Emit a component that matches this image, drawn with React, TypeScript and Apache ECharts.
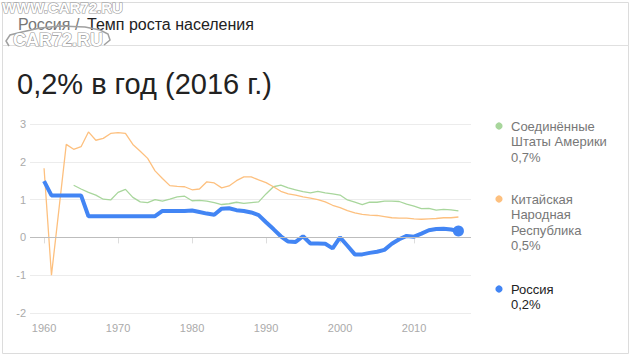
import React, { useEffect, useRef } from "react";
import * as echarts from "echarts";

const years: number[] = [];
for (let y = 1960; y <= 2016; y++) years.push(y);

const russiaValues = [
  1.49, 1.11, 1.11, 1.11, 1.11, 1.11, 0.56, 0.56, 0.56, 0.56,
  0.56, 0.56, 0.56, 0.56, 0.56, 0.56, 0.70, 0.70, 0.70, 0.70,
  0.71, 0.67, 0.63, 0.60, 0.76, 0.77, 0.72, 0.70, 0.66, 0.59,
  0.40, 0.22, 0.03, -0.11, -0.12, 0.03, -0.16, -0.16, -0.17, -0.29,
  0.0, -0.22, -0.45, -0.45, -0.41, -0.38, -0.33, -0.17, -0.05, 0.04,
  0.02, 0.10, 0.19, 0.22, 0.23, 0.21, 0.17,
];

const chinaValues = [
  1.83, -1.0, 0.72, 2.46, 2.33, 2.40, 2.79, 2.57, 2.62, 2.75,
  2.77, 2.75, 2.46, 2.28, 2.09, 1.76, 1.56, 1.37, 1.35, 1.34,
  1.26, 1.28, 1.47, 1.44, 1.31, 1.36, 1.50, 1.60, 1.60, 1.52,
  1.45, 1.34, 1.22, 1.15, 1.12, 1.07, 1.04, 1.00, 0.94, 0.85,
  0.79, 0.71, 0.65, 0.61, 0.59, 0.58, 0.55, 0.52, 0.51, 0.51,
  0.49, 0.48, 0.49, 0.50, 0.52, 0.52, 0.54,
];

const usaYears: number[] = [];
for (let y = 1964; y <= 2016; y++) usaYears.push(y);
const usaValues = [
  1.38, 1.28, 1.19, 1.12, 1.01, 0.99,
  1.19, 1.27, 1.06, 0.94, 0.92, 1.00, 0.96, 1.01, 1.07, 1.09,
  0.97, 0.98, 0.96, 0.92, 0.87, 0.89, 0.93, 0.90, 0.92, 0.94,
  1.15, 1.34, 1.38, 1.31, 1.26, 1.21, 1.18, 1.22, 1.18, 1.15,
  1.12, 0.99, 0.93, 0.87, 0.93, 0.93, 0.96, 0.96, 0.95, 0.88,
  0.83, 0.76, 0.77, 0.72, 0.74, 0.73, 0.70,
];

const xTickLabels = [1960, 1970, 1980, 1990, 2000, 2010];
const yTicks = [-2, -1, 0, 1, 2, 3];

const seriesNames = ["Соединённые\nШтаты Америки", "Китайская\nНародная\nРеспублика", "Россия"];
const seriesLabels = ["0,7%", "0,5%", "0,2%"];
const colors = ["#a8d69c", "#fdc07f", "#4285f4"];

const breadcrumbParent = "Россия";
const breadcrumbSep = "/";
const breadcrumbTitle = "Темп роста населения";
const headline = "0,2% в год (2016 г.)";

const FONT = "Liberation Sans, Arial, sans-serif";

export default function App() {
  const ref = useRef<HTMLDivElement>(null);
  useEffect(() => {
    if (!ref.current) return;
    const chart = echarts.init(ref.current, undefined, { renderer: "svg" });

    const legendTop = [126, 199, 289];
    const legendGraphics: any[] = [];
    seriesNames.forEach((name, i) => {
      const lines = name.split("\n").concat([seriesLabels[i]]);
      legendGraphics.push({
        type: "circle",
        shape: { cx: 499, cy: legendTop[i], r: 3.6 },
        style: { fill: colors[i] },
        silent: true,
      });
      lines.forEach((ln, j) => {
        legendGraphics.push({
          type: "text",
          x: 511,
          y: legendTop[i] + j * 15.6,
          style: {
            text: ln,
            font: `13px ${FONT}`,
            fill: i === 2 ? "#222" : "#777",
            verticalAlign: "middle",
            align: "left",
          },
          silent: true,
        });
      });
    });

    const option: any = {
      animation: false,
      backgroundColor: "#fff",
      grid: { left: 30, right: 165, top: 124, bottom: 45, containLabel: false },
      xAxis: {
        type: "value",
        min: 1958.1,
        max: 2017.7,
        splitLine: { show: false },
        axisLine: { show: false },
        axisTick: {
          show: true,
          length: 6,
          lineStyle: { color: "#ddd" },
          customValues: xTickLabels,
        },
        axisLabel: {
          color: "#aaa",
          fontSize: 11,
          fontFamily: FONT,
          margin: 9,
          customValues: xTickLabels,
          formatter: (v: number) => String(v),
        },
      },
      yAxis: {
        type: "value",
        min: yTicks[0],
        max: yTicks[yTicks.length - 1],
        interval: 1,
        axisLine: { show: false },
        axisTick: { show: false },
        axisLabel: { color: "#aaa", fontSize: 11, fontFamily: FONT, margin: 4 },
        splitLine: { lineStyle: { color: "#ececec", width: 1 } },
      },
      series: [
        {
          name: "usa",
          type: "line",
          data: usaYears.map((y, i) => [y, usaValues[i]]),
          showSymbol: false,
          lineStyle: { color: colors[0], width: 1.3 },
          itemStyle: { color: colors[0] },
          z: 2,
          markLine: {
            silent: true,
            symbol: "none",
            label: { show: false },
            lineStyle: { color: "#bdbdbd", width: 1, type: "solid" },
            data: [{ yAxis: 0 }],
          },
        },
        {
          name: "china",
          type: "line",
          data: years.map((y, i) => [y, chinaValues[i]]),
          showSymbol: false,
          lineStyle: { color: colors[1], width: 1.3 },
          itemStyle: { color: colors[1] },
          z: 3,
        },
        {
          name: "russia",
          type: "line",
          data: years.map((y, i) => [y, russiaValues[i]]),
          showSymbol: false,
          lineStyle: { color: colors[2], width: 4 },
          itemStyle: { color: colors[2] },
          z: 4,
        },
        {
          name: "russiaLast",
          type: "scatter",
          data: [[years[years.length - 1], russiaValues[russiaValues.length - 1]]],
          symbolSize: 11,
          itemStyle: { color: colors[2], opacity: 1 },
          z: 5,
        },
      ],
      graphic: [
        {
          type: "rect",
          shape: { x: 2.5, y: 2.5, width: 626, height: 351 },
          style: { fill: "none", stroke: "#dcdcdc", lineWidth: 1 },
          silent: true,
          z: -1,
        },
        {
          type: "line",
          shape: { x1: 2.5, y1: 45.5, x2: 628.5, y2: 45.5 },
          style: { stroke: "#e0e0e0", lineWidth: 1 },
          silent: true,
        },
        {
          type: "text",
          x: 18,
          y: 24,
          style: {
            text: breadcrumbParent,
            font: `16px ${FONT}`,
            fill: "#777",
            verticalAlign: "middle",
          },
          silent: true,
        },
        {
          type: "text",
          x: 75,
          y: 24,
          style: {
            text: breadcrumbSep,
            font: `16px ${FONT}`,
            fill: "#777",
            verticalAlign: "middle",
          },
          silent: true,
        },
        {
          type: "text",
          x: 87,
          y: 24,
          style: {
            text: breadcrumbTitle,
            font: `16px ${FONT}`,
            fill: "#222",
            verticalAlign: "middle",
          },
          silent: true,
        },
        {
          type: "text",
          x: 17,
          y: 84,
          style: {
            text: headline,
            font: `29px ${FONT}`,
            fill: "#222",
            verticalAlign: "middle",
          },
          silent: true,
        },
        {
          type: "polyline",
          shape: {
            points: [
              [9, 46], [6, 41], [10, 35], [22, 32], [40, 28], [60, 26],
              [85, 27], [100, 30], [108, 34], [110, 40], [104, 45],
            ],
          },
          style: { stroke: "#a0a0a0", lineWidth: 1.5, fill: "none" },
          silent: true,
          z: 10,
        },
        {
          type: "text",
          x: 2,
          y: 7,
          style: {
            text: "WWW.CAR72.RU",
            font: `bold 15px ${FONT}`,
            fill: "#fff",
            stroke: "#999",
            lineWidth: 1.2,
            verticalAlign: "middle",
          },
          silent: true,
          z: 10,
        },
        {
          type: "text",
          x: 13,
          y: 40,
          style: {
            text: "CAR72.RU",
            font: `bold 18px ${FONT}`,
            fill: "#fff",
            stroke: "#999",
            lineWidth: 1.2,
            verticalAlign: "middle",
          },
          silent: true,
          z: 10,
        },
        ...legendGraphics,
      ],
    };
    chart.setOption(option);
    return () => chart.dispose();
  }, []);
  return (
    <div
      ref={ref}
      style={{ position: "fixed", left: 0, top: 0, width: 636, height: 358, background: "#fff" }}
    />
  );
}
